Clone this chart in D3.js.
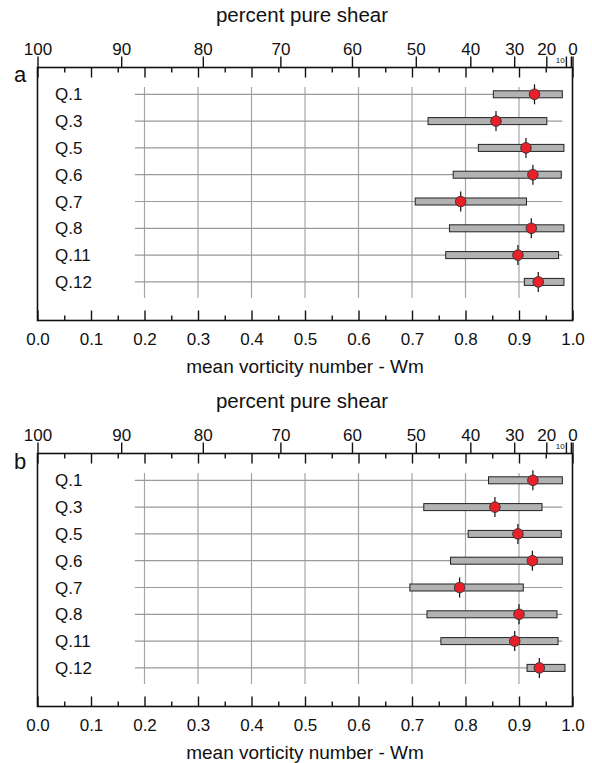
<!DOCTYPE html>
<html>
<head>
<meta charset="utf-8">
<script src="https://cdn.jsdelivr.net/npm/d3@7"></script>
<style>
  html, body { margin: 0; padding: 0; background: #fff; }
  svg { display: block; }
  text { font-family: "Liberation Sans", Arial, Helvetica, sans-serif; fill: #111; }
</style>
</head>
<body>
<svg id="chart" width="592" height="763"></svg>
<script>
// Quartz samples (rows, top to bottom)
const categories = ["Q.1", "Q.3", "Q.5", "Q.6", "Q.7", "Q.8", "Q.11", "Q.12"];

// Panel a: range (low/high) and mean vorticity number Wm
const aLow  = [0.852, 0.730, 0.824, 0.777, 0.706, 0.770, 0.763, 0.910];
const aHigh = [0.981, 0.952, 0.984, 0.979, 0.914, 0.984, 0.974, 0.984];
const aMean = [0.929, 0.857, 0.913, 0.926, 0.791, 0.923, 0.898, 0.936];

// Panel b
const bLow  = [0.843, 0.722, 0.805, 0.772, 0.696, 0.728, 0.754, 0.915];
const bHigh = [0.981, 0.943, 0.979, 0.981, 0.908, 0.971, 0.973, 0.986];
const bMean = [0.926, 0.855, 0.898, 0.925, 0.789, 0.900, 0.892, 0.938];

// Axis ticks
const wmMajor = [0, 0.1, 0.2, 0.3, 0.4, 0.5, 0.6, 0.7, 0.8, 0.9, 1.0];
const wmMinor = [0.05, 0.15, 0.25, 0.35, 0.45, 0.55, 0.65, 0.75, 0.85, 0.95];
const wmGrid  = [0.2, 0.3, 0.4, 0.5, 0.6, 0.7, 0.8, 0.9];
const pctLabelled = [100, 90, 80, 70, 60, 50, 40, 30, 20, 0];
const pctSmall = [10];
const pctExtra = [5];
const rowGuide = [0.182, 0.981];   // extent of the thin row guide lines, in Wm

// percent pure shear -> Wm
const pctToWm = p => Math.sin((100 - p) / 100 * Math.PI / 2);

const panels = [
  { id: "a", top: 67.5, letterY: 14, low: aLow, high: aHigh, mean: aMean },
  { id: "b", top: 453.5, letterY: 15.5, low: bLow, high: bHigh, mean: bMean }
];

const svg = d3.select("#chart");
const W0 = 37.5, W1 = 572.5, H = 253;
const x = d3.scaleLinear().domain([0, 1]).range([W0, W1]);

panels.forEach(p => {
  const g = svg.append("g").attr("transform", `translate(0,${p.top})`);
  const y = d3.scalePoint().domain(categories).range([26.8, 214.4]);

  // vertical grid
  g.selectAll("line.grid").data(wmGrid).join("line")
    .attr("class", "grid")
    .attr("x1", d => x(d)).attr("x2", d => x(d))
    .attr("y1", 19.5).attr("y2", 230.5)
    .attr("stroke", "#a6a6a6").attr("stroke-width", 1.2);

  // row guides
  g.selectAll("line.row").data(categories).join("line")
    .attr("class", "row")
    .attr("x1", x(rowGuide[0])).attr("x2", x(rowGuide[1]))
    .attr("y1", d => y(d)).attr("y2", d => y(d))
    .attr("stroke", "#9a9a9a").attr("stroke-width", 1.2);

  const rows = categories.map((c, i) => ({ c, lo: p.low[i], hi: p.high[i], m: p.mean[i] }));

  // range bars
  g.selectAll("rect.bar").data(rows).join("rect")
    .attr("class", "bar")
    .attr("x", d => x(d.lo)).attr("width", d => x(d.hi) - x(d.lo))
    .attr("y", d => y(d.c) - 3.5).attr("height", 7)
    .attr("fill", "#b2b2b2").attr("stroke", "#222").attr("stroke-width", 1);

  // vertical stem through mean
  g.selectAll("line.stem").data(rows).join("line")
    .attr("class", "stem")
    .attr("x1", d => x(d.m)).attr("x2", d => x(d.m))
    .attr("y1", d => y(d.c) - 10).attr("y2", d => y(d.c) + 10)
    .attr("stroke", "#111").attr("stroke-width", 1.2);

  // mean markers
  g.selectAll("circle.mean").data(rows).join("circle")
    .attr("class", "mean")
    .attr("cx", d => x(d.m)).attr("cy", d => y(d.c)).attr("r", 5.3)
    .attr("fill", "#e8202a").attr("stroke", "#333").attr("stroke-width", 0.9);

  // category labels
  g.selectAll("text.cat").data(categories).join("text")
    .attr("class", "cat")
    .attr("x", 55).attr("y", d => y(d)).attr("dy", "0.36em")
    .attr("font-size", 17).text(d => d);

  // frame
  g.append("rect")
    .attr("x", W0).attr("y", 0).attr("width", W1 - W0).attr("height", H)
    .attr("fill", "none").attr("stroke", "#111").attr("stroke-width", 1.6);

  const styleAxis = sel => {
    sel.select(".domain").remove();
    sel.selectAll(".tick line").attr("stroke", "#111").attr("stroke-width", 1.4);
    sel.selectAll(".tick text").attr("font-size", 17).attr("fill", "#111")
      .attr("font-family", "Liberation Sans, Arial, sans-serif");
  };

  // bottom Wm axis: inward ticks, labels below
  g.append("g").attr("transform", `translate(0,${H})`)
    .call(d3.axisBottom(x).tickValues(wmMajor).tickSizeInner(-10).tickSizeOuter(0)
      .tickPadding(12.5).tickFormat(d3.format(".1f")))
    .call(styleAxis);
  g.append("g").attr("transform", `translate(0,${H})`)
    .call(d3.axisBottom(x).tickValues(wmMinor).tickSizeInner(-5).tickSizeOuter(0).tickFormat(""))
    .call(styleAxis);

  // top Wm ticks, inward, unlabelled
  g.append("g")
    .call(d3.axisTop(x).tickValues(wmMajor).tickSizeInner(-10).tickSizeOuter(0).tickFormat(""))
    .call(styleAxis);
  g.append("g")
    .call(d3.axisTop(x).tickValues(wmMinor).tickSizeInner(-5).tickSizeOuter(0).tickFormat(""))
    .call(styleAxis);

  // top percent pure shear axis, outward
  g.append("g")
    .call(d3.axisTop(x).tickValues(pctLabelled.map(pctToWm)).tickSizeInner(11).tickSizeOuter(0)
      .tickPadding(2).tickFormat((d, i) => pctLabelled[i]))
    .call(styleAxis);
  g.append("g")
    .call(d3.axisTop(x).tickValues(pctSmall.concat(pctExtra).map(pctToWm)).tickSizeInner(11)
      .tickSizeOuter(0).tickFormat(""))
    .call(styleAxis);
  g.selectAll("text.small").data(pctSmall).join("text")
    .attr("class", "small")
    .attr("x", d => x(pctToWm(d)) - 1.2).attr("y", -4.5)
    .attr("text-anchor", "end").attr("font-size", 8).text(d => d);

  // titles
  g.append("text").attr("x", 302).attr("y", -45.5).attr("text-anchor", "middle")
    .attr("font-size", 20.5).text("percent pure shear");
  g.append("text").attr("x", 305).attr("y", H + 52).attr("text-anchor", "middle")
    .attr("font-size", 19).text("mean vorticity number - Wm");

  // panel letter
  g.append("text").attr("x", 20).attr("y", p.letterY).attr("text-anchor", "middle")
    .attr("font-size", 22).text(p.id);
});
</script>
</body>
</html>
